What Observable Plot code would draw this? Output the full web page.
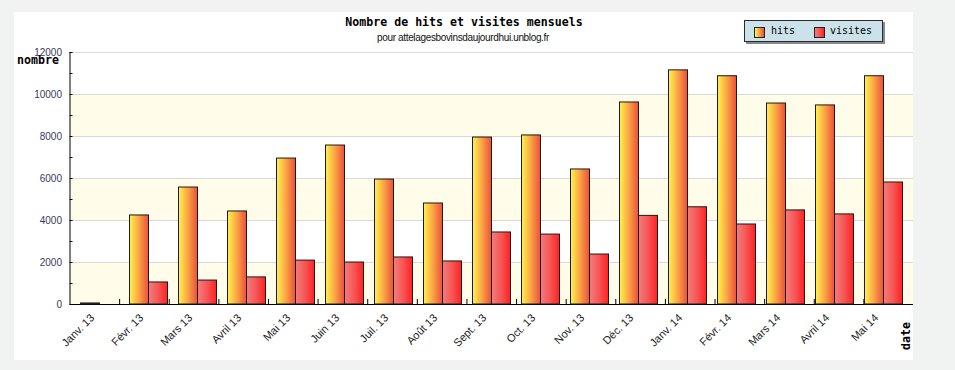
<!DOCTYPE html>
<html>
<head>
<meta charset="utf-8">
<script src="https://cdn.jsdelivr.net/npm/d3@7"></script>
<script src="https://cdn.jsdelivr.net/npm/@observablehq/plot@0.6"></script>
<style>
  html, body { margin: 0; padding: 0; }
  body { width: 955px; height: 370px; background: #f1f3f3; position: relative; overflow: hidden; }
  #panel { position: absolute; left: 14px; top: 12px; width: 899px; height: 348px; background: #ffffff; }
  .layer { position: absolute; left: 0; top: 0; }
  .mono { font-family: "DejaVu Sans Mono", monospace; color: #000; white-space: nowrap; }
  #title { position: absolute; left: 0; width: 928px; top: 15px; text-align: center; font-size: 11.6px; font-weight: bold; line-height: 14px; }
  #subtitle { position: absolute; left: 0; width: 926px; top: 31px; text-align: center; font-family: "Liberation Sans", Arial, sans-serif; font-size: 10px; letter-spacing: -0.35px; line-height: 13px; color: #111; white-space: nowrap; }
  #ylabel { position: absolute; left: 17px; top: 53px; font-size: 11.6px; font-weight: bold; line-height: 14px; }
  #xlabel { position: absolute; left: 912px; top: 350px; font-size: 11.6px; font-weight: bold; line-height: 14px; transform-origin: 0 0; transform: rotate(-90deg) translate(0, -13px); }
  #legend { position: absolute; left: 744px; top: 20px; width: 137px; height: 20px; background: #cbe2ea; border: 1px solid #2a2a2a; box-shadow: 2px 2px 0 #8a8a8a; }
  .sw { position: absolute; top: 6px; width: 9px; height: 9px; border: 1px solid #222; }
  .lt { position: absolute; top: 3px; font-size: 10px; line-height: 13px; }
  svg text { font-family: "Liberation Sans", Arial, sans-serif; }
</style>
</head>
<body>
<svg width="0" height="0" style="position:absolute">
  <defs>
    <linearGradient id="gradHits" x1="0" y1="0" x2="1" y2="0">
      <stop offset="0%" stop-color="#fff34c"/>
      <stop offset="45%" stop-color="#fbab45"/>
      <stop offset="100%" stop-color="#ec4f3b"/>
    </linearGradient>
    <linearGradient id="gradVisites" x1="0" y1="0" x2="1" y2="0">
      <stop offset="0%" stop-color="#f27d7b"/>
      <stop offset="50%" stop-color="#f75656"/>
      <stop offset="100%" stop-color="#ff2020"/>
    </linearGradient>
  </defs>
</svg>
<div id="panel"></div>
<div id="under" class="layer"></div>
<div id="over" class="layer"></div>
<div id="title" class="mono">Nombre de hits et visites mensuels</div>
<div id="subtitle">pour attelagesbovinsdaujourdhui.unblog.fr</div>
<div id="ylabel" class="mono">nombre</div>
<div id="xlabel" class="mono">date</div>
<div id="legend">
  <div class="sw" style="left:9px; background-image: linear-gradient(to right, #fff34c, #fbab45 45%, #ec4f3b);"></div>
  <div class="lt mono" style="left:26px;">hits</div>
  <div class="sw" style="left:69px; background-image: linear-gradient(to right, #f27d7b, #f75656 50%, #ff2020);"></div>
  <div class="lt mono" style="left:85px;">visites</div>
</div>
<script>
// ---- data ----
const months = ["Janv. 13","Févr. 13","Mars 13","Avril 13","Mai 13","Juin 13","Juil. 13","Août 13","Sept. 13","Oct. 13","Nov. 13","Déc. 13","Janv. 14","Févr. 14","Mars 14","Avril 14","Mai 14"];
const hits    = [50, 4240, 5570, 4430, 6950, 7570, 5950, 4810, 7950, 8050, 6430, 9620, 11150, 10870, 9570, 9480, 10870];
const visites = [0, 1050, 1140, 1290, 2090, 2000, 2240, 2050, 3430, 3330, 2380, 4220, 4630, 3810, 4480, 4290, 5810];
const seriesNames = ["hits", "visites"];
const yLabelTicks = [0, 2000, 4000, 6000, 8000, 10000, 12000];
const yMinorTicks = [0, 1000, 2000, 3000, 4000, 5000, 6000, 7000, 8000, 9000, 10000, 11000, 12000];
const bandLow  = [0, 4000, 8000];
const bandHigh = [2000, 6000, 10000];

// ---- tables built from the arrays ----
const tableHits = months.map((m, i) => ({month: m, series: "hits", value: hits[i]}));
const tableVisites = months.map((m, i) => ({month: m, series: "visites", value: visites[i]}));
const bands = bandLow.map((lo, i) => ({lo, hi: bandHigh[i]}));
const boundaries = d3.range(1, months.length);

const W = 955, H = 370;
const M = {top: 52, right: 42, bottom: 66, left: 69.5};

// underlay: background bands, grid, axes
const under = Plot.plot({
  width: W, height: H,
  marginTop: M.top, marginRight: M.right, marginBottom: M.bottom, marginLeft: M.left,
  style: {background: "transparent", overflow: "visible"},
  x: {type: "linear", domain: [0, months.length]},
  y: {domain: [0, 12000]},
  marks: [
    Plot.rectY(bands, {y1: "lo", y2: "hi", fill: "#fffcea"}),
    Plot.gridY(yLabelTicks.filter(d => d > 0), {stroke: "#d9d9d9", strokeOpacity: 1}),
    Plot.axisY(yLabelTicks, {tickSize: 0, tickPadding: 8, fontSize: 10, fill: "#3a3a58", label: null, fontFamily: "DejaVu Sans", tickFormat: d => String(d)}),
    Plot.axisY(yMinorTicks, {tickSize: -3, tickFormat: () => "", label: null, stroke: "#000"}),
    Plot.axisX(boundaries, {tickSize: -5, tickFormat: () => "", label: null, stroke: "#000"}),
    Plot.ruleX([0], {stroke: "#000"}),
    Plot.ruleY([0], {stroke: "#000"})
  ]
});
document.getElementById("under").appendChild(under);

// overlay: grouped bars and month labels
const over = Plot.plot({
  width: W, height: H,
  marginTop: M.top, marginRight: M.right, marginBottom: M.bottom, marginLeft: M.left,
  style: {background: "transparent", overflow: "visible"},
  fx: {domain: months, padding: 0, axis: null, label: null},
  x: {domain: seriesNames, paddingInner: 0, paddingOuter: 0.24, axis: null},
  y: {domain: [0, 12000], axis: null},
  marks: [
    Plot.barY(tableHits, {fx: "month", x: "series", y: "value", fill: "url(#gradHits)", stroke: "#1a1a1a", strokeWidth: 1}),
    Plot.barY(tableVisites, {fx: "month", x: "series", y: "value", fill: "url(#gradVisites)", stroke: "#1a1a1a", strokeWidth: 1}),
    Plot.text(months, {fx: d => d, text: d => d, frameAnchor: "bottom", dx: -5, dy: 14, rotate: -45, textAnchor: "end", fontSize: 11, fill: "#222"})
  ]
});
document.getElementById("over").appendChild(over);
</script>
</body>
</html>
